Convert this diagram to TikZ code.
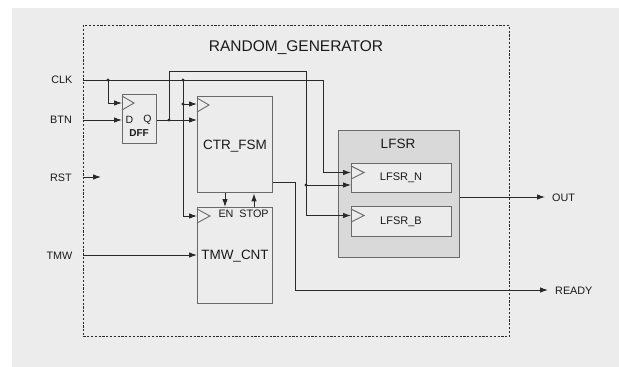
\documentclass[tikz,border=0pt]{standalone}
\usepackage{fontspec}
\setmainfont{Liberation Sans}
\usetikzlibrary{arrows.meta}
\definecolor{bgc}{HTML}{ECECEC}
\definecolor{lfsrc}{HTML}{D9D9D9}
\definecolor{boxc}{HTML}{6A6A6A}
\definecolor{wirec}{HTML}{2A2A2A}
\definecolor{txtc}{HTML}{1A1A1A}
\begin{document}
\begin{tikzpicture}[x=1pt,y=-1pt,
  blk/.style={draw=boxc,line width=1.4pt,fill=bgc,inner sep=0pt,anchor=north west},
  wire/.style={draw=wirec,line width=0.9pt},
  arr/.style={wire,-{Latex[length=8pt,width=5.5pt]}},
  dot/.style={circle,fill=wirec,inner sep=0pt,minimum size=3.4pt},
  clkt/.style={draw=boxc,line width=0.9pt,fill=none},
  pinlbl/.style={text=txtc,font=\fontsize{10.8}{12}\selectfont,inner sep=0pt},
  biglbl/.style={text=txtc,font=\fontsize{13.5}{15}\selectfont,inner sep=0pt},
  midlbl/.style={text=txtc,font=\fontsize{11}{12}\selectfont,inner sep=0pt},
  smlbl/.style={text=txtc,font=\fontsize{10.5}{12}\selectfont,inner sep=0pt}
]
\useasboundingbox (0,0) rectangle (619,367);
\fill[bgc] (12,8) rectangle (619,367);
% outer dashed frame
\node[draw=wirec,line width=0.8pt,dash pattern=on 2.2pt off 1.6pt,inner sep=0pt,anchor=north west,
      minimum width=426pt,minimum height=311pt] (frame) at (83,25) {};
\node[text=txtc,font=\fontsize{15.5}{17}\selectfont,inner sep=0pt] (title) at (296,48) {RANDOM\_GENERATOR};

% blocks
\node[blk,minimum width=34pt,minimum height=49pt] (dff) at (122,94) {};
\node[blk,minimum width=75pt,minimum height=96pt] (ctr) at (197,96) {};
\node[blk,minimum width=75pt,minimum height=96pt] (tmw) at (197,207) {};
\node[blk,fill=lfsrc,minimum width=121pt,minimum height=127pt] (lfsr) at (338,130) {};
\node[blk,minimum width=100pt,minimum height=29pt] (lfsrn) at (351,163) {};
\node[blk,minimum width=100pt,minimum height=30pt] (lfsrb) at (351,206) {};

% block texts
\node[smlbl] (dtxt) at (129.5,120) {D};
\node[smlbl] (qtxt) at (147.5,120) {Q};
\node[text=txtc,font=\bfseries\fontsize{10}{12}\selectfont,inner sep=0pt] (dfftxt) at (139,133.5) {DFF};
\node[biglbl] (ctrtxt) at (235,146) {CTR\_FSM};
\node[biglbl] (tmwtxt) at (235,256) {TMW\_CNT};
\node[pinlbl] (entxt) at (226,213.5) {EN};
\node[pinlbl] (stoptxt) at (254,213.5) {STOP};
\node[biglbl] (lfsrtxt) at (398,143.5) {LFSR};
\node[midlbl] (lfsrntxt) at (401,178) {LFSR\_N};
\node[midlbl] (lfsrbtxt) at (401,221.5) {LFSR\_B};

% clock triangles
\draw[clkt] (122,96) -- (134,103) -- (122,110);
\draw[clkt] (197,98) -- (209,105) -- (197,112);
\draw[clkt] (197,209) -- (210,216) -- (197,223);
\draw[clkt] (351,166) -- (364,172.5) -- (351,179);
\draw[clkt] (351,209) -- (364,215.5) -- (351,222);

% pin labels
\node[pinlbl,anchor=east] (clkl) at (72.5,80) {CLK};
\node[pinlbl,anchor=east] (btnl) at (72,120) {BTN};
\node[pinlbl,anchor=east] (rstl) at (72,177.5) {RST};
\node[pinlbl,anchor=east] (tmwl) at (72.5,256) {TMW};
\node[pinlbl,anchor=west] (outl) at (552,197.5) {OUT};
\node[pinlbl,anchor=west] (readyl) at (555,290.5) {READY};

% coordinates
\coordinate (clkin) at (83,80);
\coordinate (btnin) at (83,120);
\coordinate (rstin) at (83,177);
\coordinate (rstend) at (101,177);
\coordinate (tmwin) at (83,255);
\coordinate (outend) at (545,197);
\coordinate (readyend) at (548,290);

% dots
\node[dot] (j1) at (108,80) {};
\node[dot] (j2) at (183,80) {};
\node[dot] (j3) at (183,104) {};
\node[dot] (j4) at (169,120) {};
\node[dot] (j5) at (306,185) {};

% CLK net
\draw[arr] (clkin) -- (323,80) -- (323,172.5) -- (lfsrn.west |- 0,172.5);
\draw[arr] (j1.center) -- (108,103) -- (dff.west |- 0,103);
\draw[arr] (j2.center) -- (183,216) -- (tmw.west |- 0,216);
\draw[arr] (j3.center) -- (ctr.west |- j3);
% BTN
\draw[arr] (btnin) -- (dff.west |- btnin);
% Q net
\draw[arr] (dff.east |- 0,120) -- (ctr.west |- 0,120);
\draw[arr] (j4.center) -- (169,71) -- (306,71) -- (306,215.5) -- (lfsrb.west |- 0,215.5);
\draw[arr] (j5.center) -- (lfsrn.west |- j5);
% RST
\draw[arr] (rstin) -- (rstend);
% TMW
\draw[arr] (tmwin) -- (tmw.west |- tmwin);
% EN / STOP
\draw[arr] (ctr.south -| 225,0) -- (tmw.north -| 225,0);
\draw[arr] (tmw.north -| 254,0) -- (ctr.south -| 254,0);
% CTR output to READY
\draw[arr] (ctr.east |- 0,182) -- (295,182) -- (295,290) -- (readyend);
% OUT
\draw[arr] (lfsr.east |- 0,197) -- (outend);
\end{tikzpicture}
\end{document}
